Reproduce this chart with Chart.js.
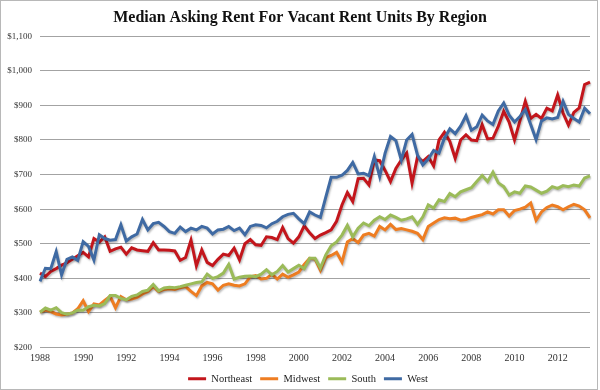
<!DOCTYPE html>
<html>
<head>
<meta charset="utf-8">
<script src="https://cdn.jsdelivr.net/npm/chart.js@4.4.1/dist/chart.umd.min.js"></script>
<style>
  html, body { margin: 0; padding: 0; background: #fff; }
  #wrap { width: 600px; height: 390px; position: relative; }
</style>
</head>
<body>
<div id="wrap"><canvas id="rent"></canvas></div>
<script>
// quarterly, 1988 Q1 .. 2013 Q3
const firstYear = 1988;
const quarterCount = 103;
const quarters = [];
for (let i = 0; i < quarterCount; i++) {
  quarters.push((firstYear + Math.floor(i / 4)) + ' Q' + (i % 4 + 1));
}

const seriesNames = ['Northeast', 'Midwest', 'South', 'West'];

const northeast = [
  415, 405, 420, 428, 438, 445, 455, 465, 475, 462, 515, 505, 520, 478, 485, 490,
  470, 488, 482, 480, 478, 503, 482, 482, 481, 479, 452, 460, 510, 436, 482, 446,
  437, 455, 470, 466, 487, 453, 500, 512, 497, 495, 520, 518, 512, 547, 515, 502,
  520, 552, 532, 515, 525, 532, 540, 565, 612, 648, 622, 688, 689, 670, 742, 740,
  712, 680, 718, 742, 762, 675, 750, 738, 752, 725, 800, 822, 796, 747, 800, 815,
  800, 798, 844, 803, 805, 840, 883, 852, 800, 855, 912, 862, 874, 862, 892, 884,
  930, 878, 843, 880, 893, 960, 967
];

const midwest = [
  302, 308, 304, 297, 294, 296, 300, 312, 335, 304, 326, 323, 336, 348, 315, 347,
  338, 340, 345, 355, 362, 376, 362, 368, 370, 368, 373, 376, 362, 350, 378, 388,
  384, 366, 380, 384, 380, 378, 384, 404, 408, 398, 400, 412, 398, 412, 403, 410,
  418, 440, 458, 456, 423, 460, 466, 475, 447, 505, 515, 503, 525, 530, 522, 550,
  540, 556, 541, 544, 540, 536, 530, 512, 550, 560, 570, 575, 572, 574, 568, 570,
  576, 580, 584, 592, 586, 598, 598, 580, 596, 600, 606, 618, 568, 592, 605, 612,
  607, 598, 607, 614, 609, 598, 575
];

const south = [
  302, 314, 308, 315, 301, 296, 300, 308, 308, 318, 322, 320, 327, 350, 350, 342,
  338, 348, 352, 362, 366, 382, 364, 372, 374, 373, 376, 380, 384, 388, 390, 412,
  400, 405, 415, 440, 398, 403, 406, 407, 405, 412, 425, 410, 420, 437, 418, 428,
  438, 428, 458, 458, 430, 468, 494, 505, 525, 553, 520, 545, 560, 552, 568, 578,
  570, 583, 576, 568, 572, 578, 556, 578, 612, 603, 627, 622, 645, 636, 650, 656,
  662, 680, 697, 680, 707, 676, 665, 641, 650, 646, 667, 664, 655, 646, 652, 665,
  660, 668, 665, 670, 667, 690, 696
];

const west = [
  391, 429, 428, 477, 410, 455, 462, 452, 506, 492, 453, 526, 515, 510, 512, 555,
  508, 520, 528, 570, 540, 558, 562, 550, 535, 530, 548, 535, 545, 540, 550, 545,
  528, 540, 542, 550, 538, 545, 526, 550, 555, 553, 546, 558, 565, 578, 585, 588,
  572, 558, 592, 583, 576, 635, 692, 692, 698, 712, 735, 702, 704, 697, 752, 694,
  762, 810, 798, 742, 800, 816, 757, 728, 745, 770, 762, 805, 832, 818, 840, 870,
  828, 838, 872, 855, 845, 884, 907, 872, 852, 868, 888, 845, 801, 855, 864, 861,
  865, 912, 874, 862, 852, 892, 876
];

const seriesColors = ['#c3161c', '#ee7d22', '#9bbb59', '#3f6aa3'];
const serif = "'Liberation Serif', 'DejaVu Serif', serif";

// soft drop shadow like the spreadsheet lines
const lineShadow = {
  id: 'lineShadow',
  beforeDatasetDraw(chart) {
    const ctx = chart.ctx;
    ctx.save();
    ctx.shadowColor = 'rgba(0,0,0,0.28)';
    ctx.shadowBlur = 2;
    ctx.shadowOffsetX = 1;
    ctx.shadowOffsetY = 1.5;
  },
  afterDatasetDraw(chart) {
    chart.ctx.restore();
  },
};

// title is centred on the picture, legend sits a little right of centre
const boxNudge = {
  id: 'boxNudge',
  afterLayout(chart) {
    if (chart.titleBlock) {
      chart.titleBlock.left += 5;
      chart.titleBlock.right += 5;
    }
    if (chart.legend) {
      chart.legend.left += 13;
      chart.legend.right += 13;
    }
  },
};

const frame = {
  id: 'frame',
  afterDraw(chart) {
    const ctx = chart.ctx;
    ctx.save();
    ctx.strokeStyle = '#b8b8b8';
    ctx.lineWidth = 1;
    ctx.strokeRect(0.5, 0.5, 597, 389);
    ctx.restore();
  },
};

function makeSet(i, values) {
  return {
    label: seriesNames[i],
    data: values,
    borderColor: seriesColors[i],
    backgroundColor: seriesColors[i],
    borderWidth: 3,
    pointRadius: 0,
    tension: 0,
    order: 3 - i,
  };
}

new Chart(document.getElementById('rent'), {
  type: 'line',
  data: {
    labels: quarters,
    datasets: [
      makeSet(0, northeast),
      makeSet(1, midwest),
      makeSet(2, south),
      makeSet(3, west),
    ],
  },
  options: {
    responsive: true,
    maintainAspectRatio: false,
    animation: false,
    layout: { padding: { left: 0, right: 10, top: 0, bottom: -4 } },
    plugins: {
      title: {
        display: true,
        text: 'Median Asking Rent For Vacant Rent Units By Region',
        color: '#111',
        font: { family: serif, size: 16, weight: 'bold' },
        padding: { top: 8, bottom: 9 },
      },
      legend: {
        position: 'bottom',
        labels: {
          usePointStyle: true,
          pointStyle: 'line',
          pointStyleWidth: 18,
          boxHeight: 9,
          padding: 8,
          color: '#222',
          font: { family: serif, size: 10.5 },
          sort: (a, b) => a.datasetIndex - b.datasetIndex,
        },
      },
      tooltip: { enabled: false },
    },
    scales: {
      x: {
        grid: { display: false, drawTicks: false },
        border: { display: false },
        ticks: {
          autoSkip: false,
          maxRotation: 0,
          padding: 5,
          color: '#333',
          font: { family: serif, size: 10 },
          callback(value, index) {
            const year = firstYear + Math.floor(index / 4);
            return index % 8 === 0 ? String(year) : null;
          },
        },
        afterFit(scale) { scale.height = 18; },
      },
      y: {
        min: 200,
        max: 1100,
        ticks: {
          stepSize: 100,
          padding: 8,
          color: '#333',
          font: { family: serif, size: 9 },
          callback: (v) => '$' + v.toLocaleString('en-US'),
        },
        grid: { color: '#a3a3a3', lineWidth: 1, drawTicks: false },
        border: { display: false },
        afterFit(scale) { scale.width = 40; },
      },
    },
  },
  plugins: [lineShadow, boxNudge, frame],
});
</script>
</body>
</html>
